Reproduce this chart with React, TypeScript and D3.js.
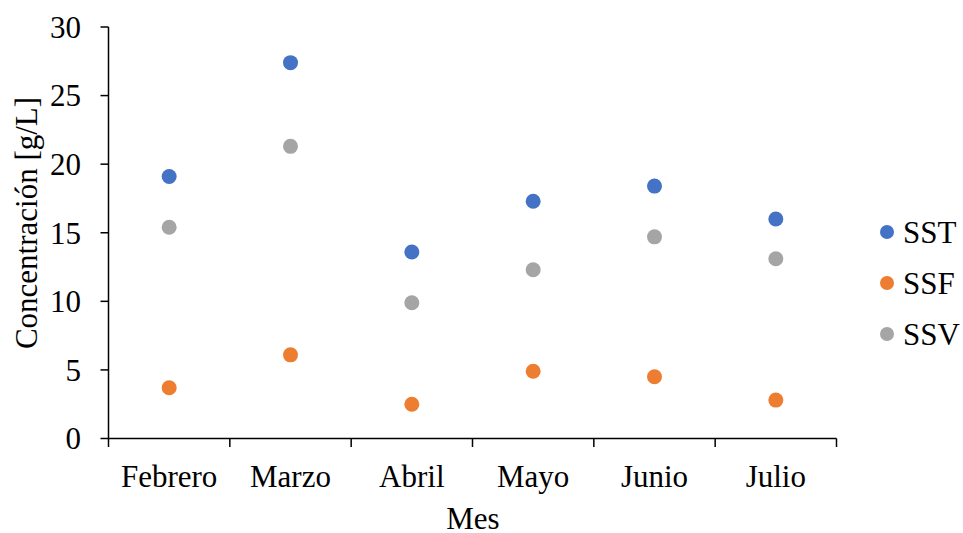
import React from "react";
import * as d3 from "d3";

const categories = ["Febrero", "Marzo", "Abril", "Mayo", "Junio", "Julio"];
const sst = [19.1, 27.4, 13.6, 17.3, 18.4, 16.0];
const ssf = [3.7, 6.1, 2.5, 4.9, 4.5, 2.8];
const ssv = [15.4, 21.3, 9.9, 12.3, 14.7, 13.1];
const seriesNames = ["SST", "SSF", "SSV"];
const seriesColors = ["#4472C4", "#ED7D31", "#A5A5A5"];
const yTicks = [0, 5, 10, 15, 20, 25, 30];

const W = 963;
const H = 533;
const FONT = "'Liberation Serif', 'Times New Roman', serif";
const FS = 31;

export default function App() {
  const x = d3.scaleBand<string>().domain(categories).range([108.5, 836.5]);
  const y = d3.scaleLinear().domain([0, 30]).range([438.5, 27]);
  const series = [sst, ssf, ssv];
  const x0 = x.range()[0];
  const x1 = x.range()[1];
  const y0 = y(0);

  const bounds = [...categories.map((c) => x(c) as number), x1];

  return (
    <svg
      width={W}
      height={H}
      style={{ position: "absolute", left: 0, top: 0, background: "#fff" }}
      fontFamily={FONT}
    >
      <rect width={W} height={H} fill="#fff" />
      {/* y axis */}
      <line x1={x0} x2={x0} y1={y(30)} y2={y0} stroke="#000" strokeWidth={1.5} />
      {yTicks.map((t) => (
        <g key={t}>
          <line x1={x0 - 8} x2={x0} y1={y(t)} y2={y(t)} stroke="#000" strokeWidth={1.5} />
          <text
            x={81}
            y={y(t)}
            dy="0.35em"
            textAnchor="end"
            fontSize={FS}
            fill="#000"
          >
            {t}
          </text>
        </g>
      ))}
      {/* x axis */}
      <line x1={x0} x2={x1} y1={y0} y2={y0} stroke="#000" strokeWidth={1.5} />
      {bounds.map((b, i) => (
        <line key={i} x1={b} x2={b} y1={y0} y2={y0 + 8.5} stroke="#000" strokeWidth={1.5} />
      ))}
      {categories.map((c) => (
        <text
          key={c}
          x={(x(c) as number) + x.bandwidth() / 2}
          y={487}
          textAnchor="middle"
          fontSize={FS}
          fill="#000"
        >
          {c}
        </text>
      ))}
      <text x={473} y={529} textAnchor="middle" fontSize={FS} fill="#000">
        Mes
      </text>
      <text
        transform={`translate(37,223) rotate(-90)`}
        textAnchor="middle"
        fontSize={FS}
        fill="#000"
      >
        Concentración [g/L]
      </text>
      {/* points */}
      {series.map((vals, si) =>
        vals.map((v, i) => (
          <circle
            key={`${si}-${i}`}
            cx={(x(categories[i]) as number) + x.bandwidth() / 2}
            cy={y(v)}
            r={7.5}
            fill={seriesColors[si]}
          />
        ))
      )}
      {/* legend */}
      {seriesNames.map((n, i) => (
        <g key={n} transform={`translate(887,${232 + i * 51})`}>
          <circle cx={0} cy={0} r={7} fill={seriesColors[i]} />
          <text x={16} y={0} dy="0.35em" fontSize={FS} fill="#000">
            {n}
          </text>
        </g>
      ))}
    </svg>
  );
}
